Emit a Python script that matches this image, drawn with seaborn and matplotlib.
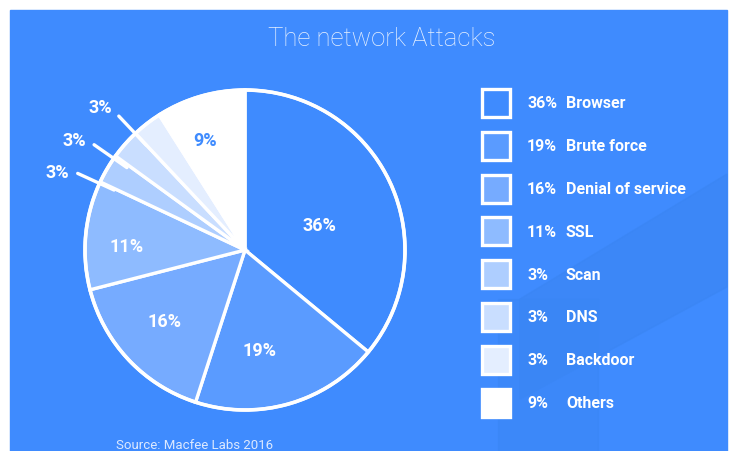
import numpy as np
import matplotlib.pyplot as plt
import matplotlib.patches as mpatches
import seaborn as sns

# ------------------------------------------------------------
# Data
# ------------------------------------------------------------
attacks = ["Browser", "Brute force", "Denial of service", "SSL",
           "Scan", "DNS", "Backdoor", "Others"]
shares = [36, 19, 16, 11, 3, 3, 3, 9]
slice_colors = ["#3F8BFE", "#5A9BFF", "#76ABFF", "#8EBBFF",
                "#AECEFF", "#C9DEFF", "#E4EEFF", "#FFFFFF"]

# label placement tweaks (radius, angle shift in degrees)
label_r = [0.49, 0.63, 0.67, 0.74, 1.27, 1.27, 1.27, 0.73]
label_shift = [-6.8, -8.2, -1.6, 3.4, 8.0, 8.5, 7.5, 3.6]

bg = "#3F8BFE"
W, H = 731, 452

sns.set_theme(style="white")
plt.rcParams['font.family'] = ['Roboto', 'DejaVu Sans']

fig = plt.figure(figsize=(W / 100, H / 100), dpi=100)
fig.patch.set_facecolor("white")

# background axes in pixel coordinates
bgax = fig.add_axes([0, 0, 1, 1])
bgax.set_xlim(0, W)
bgax.set_ylim(H, 0)
bgax.axis("off")
bgax.add_patch(mpatches.Rectangle((10, 11), 717, 445, color=bg, zorder=0))
# faint decorative shapes
bgax.add_patch(mpatches.Polygon([(520, 300), (727, 175), (727, 288), (520, 400)],
                                closed=True, color="#3A85F3", alpha=0.6, zorder=0.5))
bgax.add_patch(mpatches.Rectangle((498, 300), 100, 156, color="#3A86F5",
                                  alpha=0.5, zorder=0.5))

bgax.text(382, 46, "The network Attacks", color="#E8F1FF", fontsize=18.5,
          fontweight="light", ha="center", va="baseline")
bgax.text(116, 449, "Source: Macfee Labs 2016", color="#DCE9FF", fontsize=9.5,
          ha="left", va="baseline")

# legend
y0, dy = 104, 42.8
for i, (name, val, col) in enumerate(zip(attacks, shares, slice_colors)):
    y = y0 + i * dy
    bgax.add_patch(mpatches.Rectangle((482, y - 14), 28, 28, facecolor=col,
                                      edgecolor="white", linewidth=2.4, zorder=2))
    bgax.text(527, y, f"{val}%", color="white", fontsize=11.5, fontweight="bold",
              ha="left", va="center")
    bgax.text(566, y, name, color="white", fontsize=11.5, fontweight="bold",
              ha="left", va="center")

# pie axes: center (245, 251), radius 161 px
cx, cy, r = 245, 251, 161
half = 200
ax = fig.add_axes([(cx - half) / W, (H - cy - half) / H, 2 * half / W, 2 * half / H])
ax.set_xlim(-half / r, half / r)
ax.set_ylim(-half / r, half / r)
ax.set_aspect("equal")
ax.axis("off")

wedges, texts, autotexts = ax.pie(
    shares, colors=slice_colors, startangle=90, counterclock=False,
    autopct="%d%%", pctdistance=0.66,
    wedgeprops=dict(edgecolor="white", linewidth=2.4),
    textprops=dict(color="white", fontsize=13, fontweight="bold"))

# outer white ring
ax.add_patch(mpatches.Circle((0, 0), 1.0, fill=False, edgecolor="white",
                             linewidth=2.6, zorder=3))

for i, t in enumerate(autotexts):
    w = wedges[i]
    mid = (w.theta1 + w.theta2) / 2
    ang = np.deg2rad(mid + label_shift[i])
    t.set_position((label_r[i] * np.cos(ang), label_r[i] * np.sin(ang)))
    t.set_zorder(6)
    if attacks[i] == "Others":
        t.set_color(bg)
    if shares[i] == 3:
        t.set_clip_on(False)
        la = np.deg2rad(mid + label_shift[i] - 2)
        ax.plot([0.9 * np.cos(la), 1.15 * np.cos(la)],
                [0.9 * np.sin(la), 1.15 * np.sin(la)],
                color="white", lw=2.4, solid_capstyle="round", zorder=5,
                clip_on=False)

fig.savefig("out.png", dpi=100, facecolor="white")
